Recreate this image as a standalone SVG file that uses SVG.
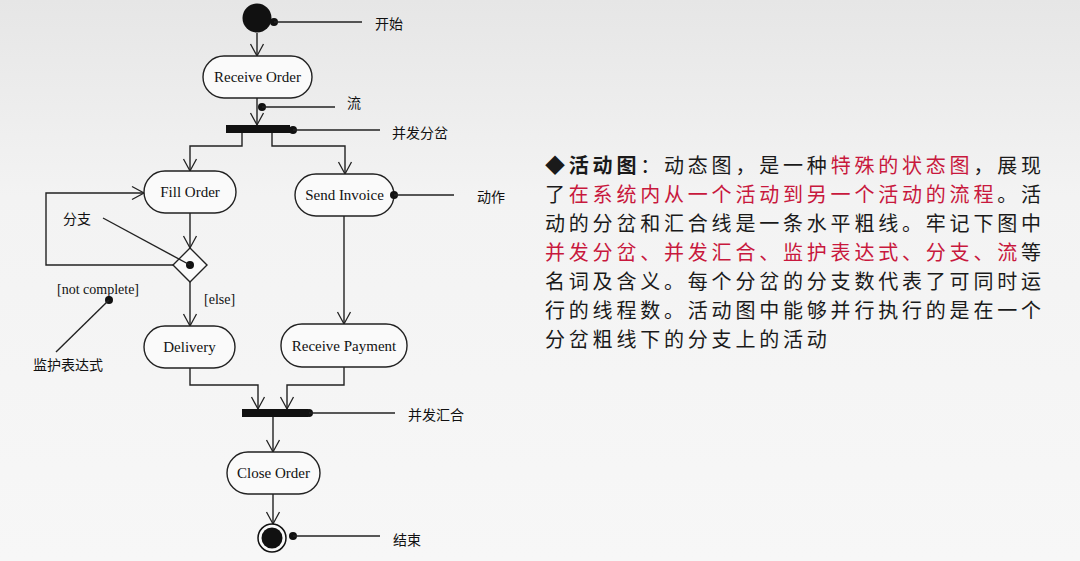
<svg xmlns="http://www.w3.org/2000/svg" width="1080" height="561" viewBox="0 0 1080 561">
<defs>
<linearGradient id="bg" x1="0" y1="0" x2="0" y2="1">
<stop offset="0" stop-color="#e6e6e6"/>
<stop offset="0.35" stop-color="#f3f3f3"/>
<stop offset="1" stop-color="#f7f7f7"/>
</linearGradient>
<marker id="arr" markerUnits="userSpaceOnUse" markerWidth="16" markerHeight="16" viewBox="-1 -8 14 16" refX="12" refY="0" orient="auto">
<path d="M0,-6.5 L12,0 L0,6.5" fill="none" stroke="#222" stroke-width="1.3"/>
</marker>
<style>
.ln{fill:none;stroke:#222;stroke-width:1.4}
.act{fill:#fafafa;stroke:#222;stroke-width:1.4}
.lbl{font-family:"Liberation Serif",serif;font-size:15px;fill:#111;text-anchor:middle;dominant-baseline:central}
.gd{font-family:"Liberation Serif",serif;font-size:14px;fill:#111;dominant-baseline:central}
.cn{font-family:"Liberation Serif","Noto Sans CJK SC",serif;font-size:14px;fill:#111;dominant-baseline:central}
.dot{fill:#111}
.tx{font-family:"Noto Sans CJK SC","Noto Sans",sans-serif;font-size:20px;letter-spacing:3.8px;fill:#1a1a1a}
.red{fill:#c8183d}
</style>
</defs>
<rect width="1080" height="561" fill="url(#bg)"/>

<g id="connectors">
<path class="ln" d="M257,33 V56" marker-end="url(#arr)"/>
<path class="ln" d="M257,98 V125" marker-end="url(#arr)"/>
<path class="ln" d="M242,133 V146 H190 V171" marker-end="url(#arr)"/>
<path class="ln" d="M272,133 V146 H345 V174" marker-end="url(#arr)"/>
<path class="ln" d="M190,213 V248" marker-end="url(#arr)"/>
<path class="ln" d="M174,265 H46 V193 H144" marker-end="url(#arr)"/>
<path class="ln" d="M190,282 V326" marker-end="url(#arr)"/>
<path class="ln" d="M344,216 V324" marker-end="url(#arr)"/>
<path class="ln" d="M190,368 V385 H258 V409" marker-end="url(#arr)"/>
<path class="ln" d="M344,367 V385 H287 V409" marker-end="url(#arr)"/>
<path class="ln" d="M273,417 V452" marker-end="url(#arr)"/>
<path class="ln" d="M273,494 V524" marker-end="url(#arr)"/>
</g>

<g id="start">
<circle cx="257" cy="18" r="14.5" fill="#111"/>
<circle class="dot" cx="274" cy="22" r="4"/>
<path class="ln" d="M274,22 H362"/>
<text class="cn" x="375" y="24">开始</text>
</g>

<g id="receive-order">
<rect class="act" x="203" y="56" width="109" height="42" rx="21"/>
<text class="lbl" x="257.5" y="77">Receive Order</text>
</g>

<g id="flow-label">
<circle class="dot" cx="262" cy="107" r="4"/>
<path class="ln" d="M262,107 H335"/>
<text class="cn" x="347" y="103">流</text>
</g>

<g id="fork">
<rect x="226" y="125" width="64" height="8" fill="#111"/>
<circle class="dot" cx="293" cy="130" r="4"/>
<path class="ln" d="M293,130 H380"/>
<text class="cn" x="392" y="133">并发分岔</text>
</g>

<g id="fill-order">
<rect class="act" x="144" y="171" width="92" height="42" rx="21"/>
<text class="lbl" x="190" y="192">Fill Order</text>
</g>

<g id="send-invoice">
<rect class="act" x="295" y="174" width="99" height="42" rx="21"/>
<text class="lbl" x="344.5" y="195">Send Invoice</text>
<circle class="dot" cx="394" cy="195" r="4"/>
<path class="ln" d="M394,195 H454"/>
<text class="cn" x="477" y="197">动作</text>
</g>

<g id="branch">
<path class="act" d="M190,248 L207,265 L190,282 L173,265 Z"/>
<circle class="dot" cx="190" cy="265" r="4"/>
<path class="ln" d="M103,218 L190,265"/>
<text class="cn" x="63" y="219">分支</text>
</g>

<g id="guard">
<text class="gd" x="57" y="289">[not complete]</text>
<circle class="dot" cx="109" cy="300" r="4"/>
<path class="ln" d="M109,300 L56,352"/>
<text class="cn" x="33" y="365">监护表达式</text>
<text class="gd" x="204" y="299">[else]</text>
</g>

<g id="delivery">
<rect class="act" x="144" y="326" width="91" height="42" rx="21"/>
<text class="lbl" x="189.5" y="347">Delivery</text>
</g>

<g id="receive-payment">
<rect class="act" x="281" y="324" width="126" height="43" rx="21"/>
<text class="lbl" x="344" y="345.5">Receive Payment</text>
</g>

<g id="join">
<rect x="242" y="409" width="66" height="8" fill="#111"/>
<circle class="dot" cx="309" cy="413" r="4"/>
<path class="ln" d="M309,413 H395"/>
<text class="cn" x="408" y="415">并发汇合</text>
</g>

<g id="close-order">
<rect class="act" x="227" y="452" width="93" height="42" rx="21"/>
<text class="lbl" x="273.5" y="473">Close Order</text>
</g>

<g id="end">
<circle cx="272" cy="538" r="14" fill="#fafafa" stroke="#111" stroke-width="1.5"/>
<circle cx="272" cy="538" r="10.5" fill="#111"/>
<circle class="dot" cx="293" cy="536" r="4"/>
<path class="ln" d="M293,536 H380"/>
<text class="cn" x="393" y="540">结束</text>
</g>

<g id="description">
<text class="tx" x="545" y="173">◆<tspan font-weight="bold">活动图</tspan>：动态图，是一种<tspan class="red">特殊的状态图</tspan>，展现</text>
<text class="tx" x="545" y="202">了<tspan class="red">在系统内从一个活动到另一个活动的流程</tspan>。活</text>
<text class="tx" x="545" y="231">动的分岔和汇合线是一条水平粗线。牢记下图中</text>
<text class="tx" x="545" y="260"><tspan class="red">并发分岔、并发汇合、监护表达式、分支、流</tspan>等</text>
<text class="tx" x="545" y="289">名词及含义。每个分岔的分支数代表了可同时运</text>
<text class="tx" x="545" y="318">行的线程数。活动图中能够并行执行的是在一个</text>
<text class="tx" x="545" y="347">分岔粗线下的分支上的活动</text>
</g>
</svg>
